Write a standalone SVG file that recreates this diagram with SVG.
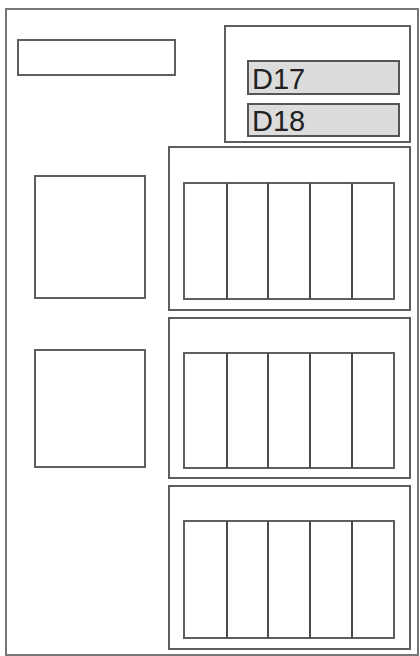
<svg xmlns="http://www.w3.org/2000/svg" width="420" height="656" viewBox="0 0 420 656">
<style>
.b{fill:none;stroke:#5e5e5e;stroke-width:2}
.g{fill:#dcdcdc;stroke:#555;stroke-width:2}
.d{stroke:#4a4a4a;stroke-width:2}
.t{font-family:"Liberation Sans",Arial,sans-serif;font-size:29px;fill:#222}
</style>
<rect width="420" height="656" fill="#fff"/>
<g id="frame"><rect class="b" x="6" y="9" width="412" height="646" style="stroke:#777"/></g>
<g id="topbox"><rect class="b" x="18" y="40" width="157" height="35"/></g>
<g id="dpanel">
<rect class="b" x="225" y="26" width="185" height="116"/>
<g id="D17"><rect class="g" x="248" y="61" width="151" height="33"/><text class="t" x="252" y="89">D17</text></g>
<g id="D18"><rect class="g" x="248" y="104" width="151" height="32"/><text class="t" x="252" y="131">D18</text></g>
</g>
<g id="sq1"><rect class="b" x="35" y="176" width="110" height="122"/></g>
<g id="sq2"><rect class="b" x="35" y="350" width="110" height="117"/></g>
<g id="panel1">
<rect class="b" x="169" y="147" width="241" height="163"/>
<rect class="b" x="184" y="183" width="210" height="116"/>
<path class="d" d="M227 183V299M268 183V299M310 183V299M352 183V299"/>
</g>
<g id="panel2">
<rect class="b" x="169" y="318" width="241" height="160"/>
<rect class="b" x="184" y="353" width="210" height="115"/>
<path class="d" d="M227 353V468M268 353V468M310 353V468M352 353V468"/>
</g>
<g id="panel3">
<rect class="b" x="169" y="486" width="241" height="163"/>
<rect class="b" x="184" y="521" width="210" height="117"/>
<path class="d" d="M227 521V638M268 521V638M310 521V638M352 521V638"/>
</g>
<g id="connectors"/>
</svg>
